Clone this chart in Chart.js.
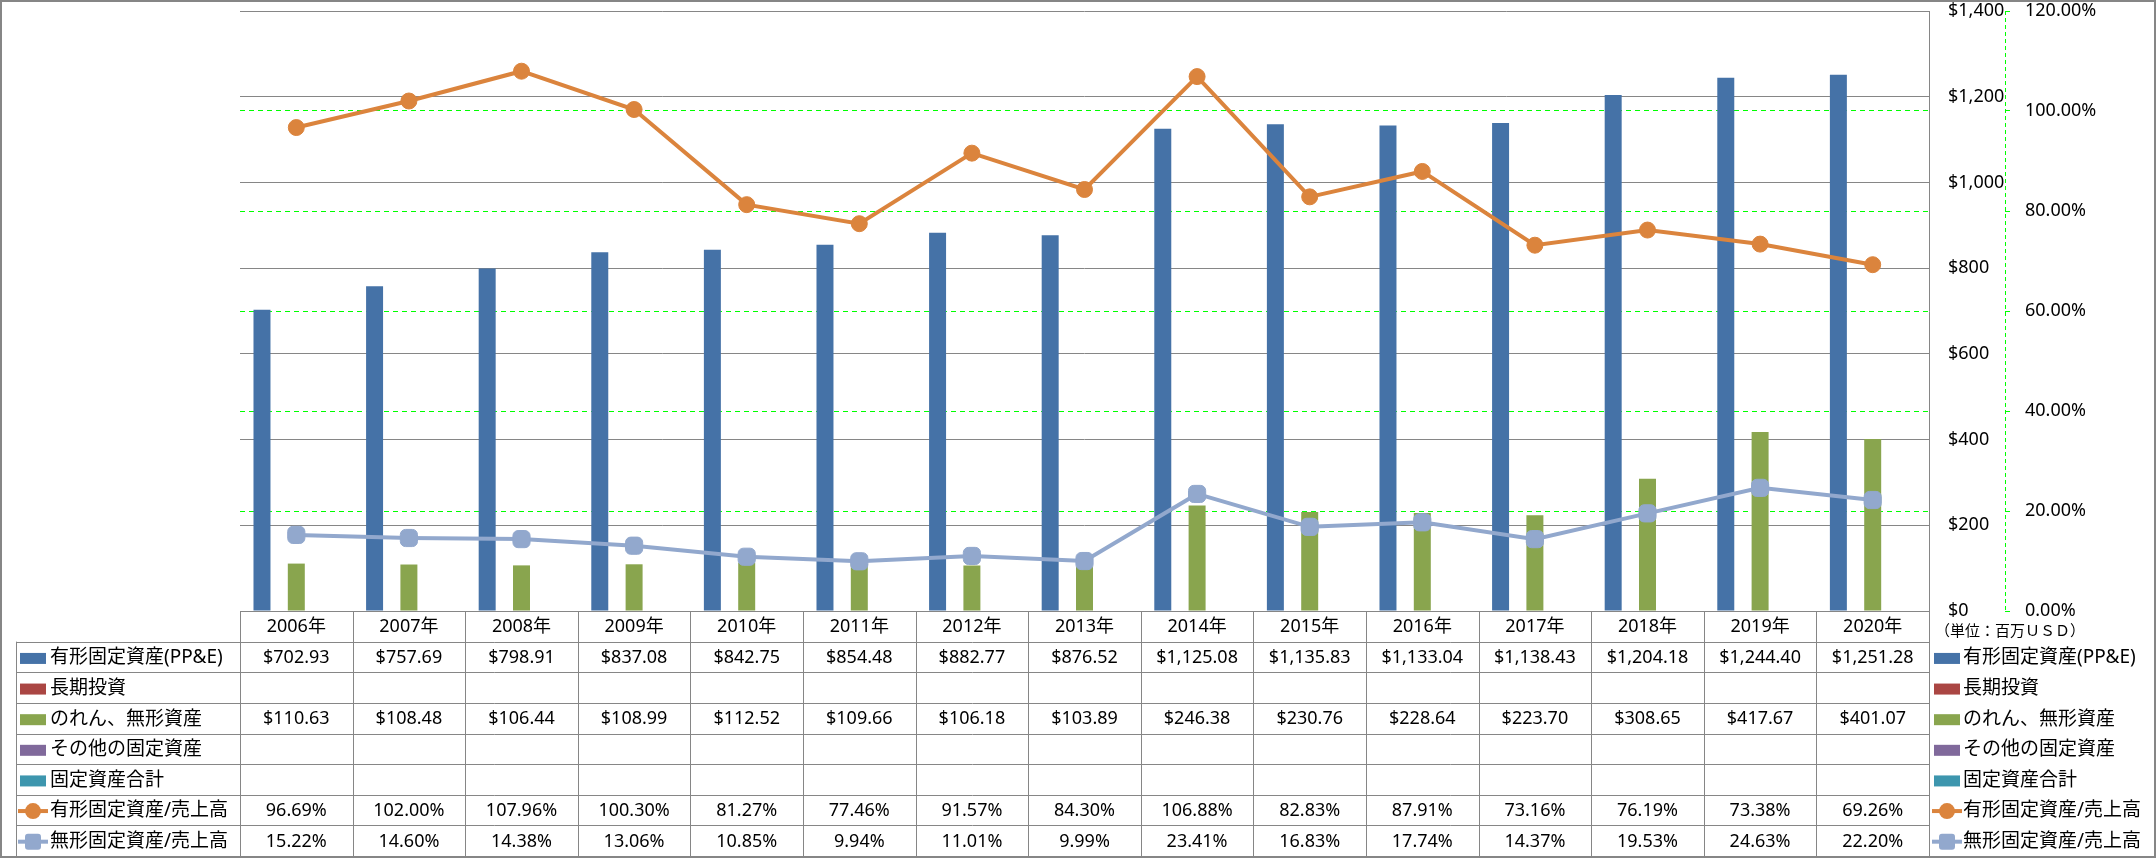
<!DOCTYPE html>
<html lang="ja">
<head>
<meta charset="utf-8">
<title>固定資産の推移</title>
<script src="https://cdn.jsdelivr.net/npm/chart.js@4.4.0/dist/chart.umd.min.js"></script>
<style>
  html, body { margin: 0; padding: 0; background: #fff; }
  canvas { display: block; }
</style>
</head>
<body>
<canvas id="assetChart" width="2156" height="858"></canvas>
<script>
// values (百万USD / %)
const years = ["2006年", "2007年", "2008年", "2009年", "2010年", "2011年", "2012年", "2013年",
               "2014年", "2015年", "2016年", "2017年", "2018年", "2019年", "2020年"];
const ppe = [702.93, 757.69, 798.91, 837.08, 842.75, 854.48, 882.77, 876.52,
             1125.08, 1135.83, 1133.04, 1138.43, 1204.18, 1244.40, 1251.28];
const longTermInvestments = [];
const goodwillIntangibles = [110.63, 108.48, 106.44, 108.99, 112.52, 109.66, 106.18, 103.89,
                             246.38, 230.76, 228.64, 223.70, 308.65, 417.67, 401.07];
const otherFixedAssets = [];
const totalFixedAssets = [];
const tangibleToSales = [96.69, 102.00, 107.96, 100.30, 81.27, 77.46, 91.57, 84.30,
                         106.88, 82.83, 87.91, 73.16, 76.19, 73.38, 69.26];
const intangibleToSales = [15.22, 14.60, 14.38, 13.06, 10.85, 9.94, 11.01, 9.99,
                           23.41, 16.83, 17.74, 14.37, 19.53, 24.63, 22.20];
const moneyTicks = { min: 0, max: 1400, step: 200 };
const pctTicks = { min: 0, max: 120, step: 20 };
const unitNote = "（単位：百万ＵＳＤ）";

const FONT = '"Noto Sans", "Noto Sans CJK JP", sans-serif';
const LINE_GRAY = "#868686";
const GREEN = "#00ff00";

function money(v) {
    return "$" + v.toLocaleString("en-US", { minimumFractionDigits: 2, maximumFractionDigits: 2 });
}
function pct(v) {
    return v.toFixed(2) + "%";
}

// legend key like the excel data table
function drawKey(ctx, ds, x, cy) {
    ctx.save();
    if (ds.type === "bar") {
        ctx.fillStyle = ds.backgroundColor;
        ctx.fillRect(x, cy - 5, 26, 11);
    } else {
        ctx.strokeStyle = ds.borderColor;
        ctx.lineWidth = 4;
        ctx.beginPath();
        ctx.moveTo(x - 2, cy);
        ctx.lineTo(x + 28, cy);
        ctx.stroke();
        ctx.fillStyle = ds.pointBackgroundColor;
        if (ds.pointStyle === "circle") {
            ctx.beginPath();
            ctx.arc(x + 13, cy, 8, 0, Math.PI * 2);
            ctx.fill();
        } else {
            ctx.beginPath();
            ctx.roundRect(x + 5, cy - 8, 16, 16, 3);
            ctx.fill();
        }
    }
    ctx.restore();
}

const tablePlugin = {
    id: "dataTable",
    afterDraw(chart) {
        const ctx = chart.ctx;
        const xs = chart.scales.x;
        const y1 = chart.scales.y1;
        const area = chart.chartArea;
        const sets = chart.data.datasets;
        const n = years.length;
        const colW = (xs.right - xs.left) / n;
        const top = area.bottom;
        const bottom = chart.height - 2;
        const rowH = (bottom - top) / (sets.length + 1);
        const labelLeft = 16;
        const px = (v) => Math.round(v) + 0.5;

        ctx.save();

        // dashed green line of the % axis
        ctx.strokeStyle = GREEN;
        ctx.lineWidth = 1;
        ctx.setLineDash([4, 3]);
        ctx.beginPath();
        ctx.moveTo(px(y1.left), area.top);
        ctx.lineTo(px(y1.left), area.bottom);
        ctx.stroke();
        ctx.setLineDash([]);

        // table grid
        ctx.strokeStyle = LINE_GRAY;
        ctx.beginPath();
        ctx.moveTo(xs.left, px(top));
        ctx.lineTo(xs.right, px(top));
        for (let r = 1; r <= sets.length; r++) {
            const yy = px(top + r * rowH);
            ctx.moveTo(labelLeft, yy);
            ctx.lineTo(xs.right, yy);
        }
        for (let c = 0; c <= n; c++) {
            const xx = px(xs.left + c * colW);
            ctx.moveTo(xx, top);
            ctx.lineTo(xx, bottom);
        }
        ctx.moveTo(px(labelLeft), top + rowH);
        ctx.lineTo(px(labelLeft), bottom);
        ctx.stroke();

        ctx.fillStyle = "#000";
        ctx.textBaseline = "middle";

        // year header
        ctx.font = "18px " + FONT;
        ctx.textAlign = "center";
        years.forEach((yr, i) => {
            ctx.fillText(yr, xs.getPixelForValue(i), top + rowH / 2 + 1);
        });

        // unit note under the axis labels
        ctx.textAlign = "left";
        ctx.font = "15px " + FONT;
        ctx.fillText(unitNote, xs.right + 6, top + rowH / 2 + 5);

        sets.forEach((ds, r) => {
            const cy = top + (r + 1.5) * rowH + 1;
            // label cell and right legend
            drawKey(ctx, ds, 20, cy);
            drawKey(ctx, ds, xs.right + 5, cy);
            ctx.fillStyle = "#000";
            ctx.font = "19px " + FONT;
            ctx.textAlign = "left";
            ctx.fillText(ds.label, 50, cy);
            ctx.fillText(ds.label, xs.right + 34, cy);
            // values
            ctx.font = "18px " + FONT;
            ctx.textAlign = "center";
            ds.data.forEach((v, i) => {
                if (v == null) return;
                const txt = ds.type === "bar" ? money(v) : pct(v);
                ctx.fillText(txt, xs.getPixelForValue(i), cy);
            });
        });

        // outer frame
        ctx.strokeStyle = LINE_GRAY;
        ctx.lineWidth = 2;
        ctx.strokeRect(1, 1, chart.width - 2, chart.height - 2);
        ctx.restore();
    }
};

function barSet(label, data, color) {
    return {
        type: "bar",
        label: label,
        data: data,
        backgroundColor: color,
        yAxisID: "y",
        order: 2,
        categoryPercentage: 0.762,
        barPercentage: 0.99
    };
}

function lineSet(label, data, color, style, radius) {
    return {
        type: "line",
        label: label,
        data: data,
        borderColor: color,
        backgroundColor: color,
        pointBackgroundColor: color,
        pointBorderColor: color,
        pointBorderWidth: 1,
        pointStyle: style,
        pointRadius: radius,
        borderWidth: 4,
        tension: 0,
        yAxisID: "y1",
        order: 1
    };
}

// fixed axis width, no extra room for the end labels
function fitWidth(w) {
    return function (scale) {
        scale.width = w;
        scale.paddingTop = 0;
        scale.paddingBottom = 0;
    };
}

Chart.defaults.font.family = FONT;
Chart.defaults.color = "#000";

const ctx = document.getElementById("assetChart").getContext("2d");

const assetChart = new Chart(ctx, {
    data: {
        labels: years,
        datasets: [
            barSet("有形固定資産(PP&E)", ppe, "#4572a7"),
            barSet("長期投資", longTermInvestments, "#aa4643"),
            barSet("のれん、無形資産", goodwillIntangibles, "#89a54e"),
            barSet("その他の固定資産", otherFixedAssets, "#80699b"),
            barSet("固定資産合計", totalFixedAssets, "#3d96ae"),
            lineSet("有形固定資産/売上高", tangibleToSales, "#db843d", "circle", 8),
            lineSet("無形固定資産/売上高", intangibleToSales, "#92a8cd", "rectRounded", 10)
        ]
    },
    options: {
        responsive: false,
        animation: false,
        events: [],
        devicePixelRatio: 1,
        layout: { padding: { left: 240, top: 11, right: 0, bottom: 247 } },
        plugins: {
            legend: { display: false },
            tooltip: { enabled: false }
        },
        scales: {
            x: {
                type: "category",
                display: false,
                offset: true
            },
            y: {
                position: "right",
                weight: 0,
                min: moneyTicks.min,
                max: moneyTicks.max,
                afterFit: fitWidth(76),
                ticks: {
                    stepSize: moneyTicks.step,
                    padding: 19,
                    font: { size: 18 },
                    callback: (v) => "$" + v.toLocaleString("en-US")
                },
                grid: { color: LINE_GRAY, lineWidth: 1, drawTicks: false },
                border: { display: true, color: LINE_GRAY, width: 1 }
            },
            y1: {
                position: "right",
                weight: 1,
                min: pctTicks.min,
                max: pctTicks.max,
                afterFit: fitWidth(151),
                ticks: {
                    stepSize: pctTicks.step,
                    padding: 15,
                    font: { size: 18 },
                    callback: (v) => pct(v)
                },
                grid: {
                    // the top and bottom green lines sit under the gray ones
                    color: (c) => (c.tick && (c.tick.value === pctTicks.max || c.tick.value === pctTicks.min))
                        ? "rgba(0,0,0,0)" : GREEN,
                    lineWidth: 1,
                    drawTicks: true,
                    tickLength: 5,
                    tickColor: GREEN,
                    tickBorderDash: []
                },
                border: { display: false, dash: [5, 4] }
            }
        }
    },
    plugins: [tablePlugin]
});
</script>
</body>
</html>
